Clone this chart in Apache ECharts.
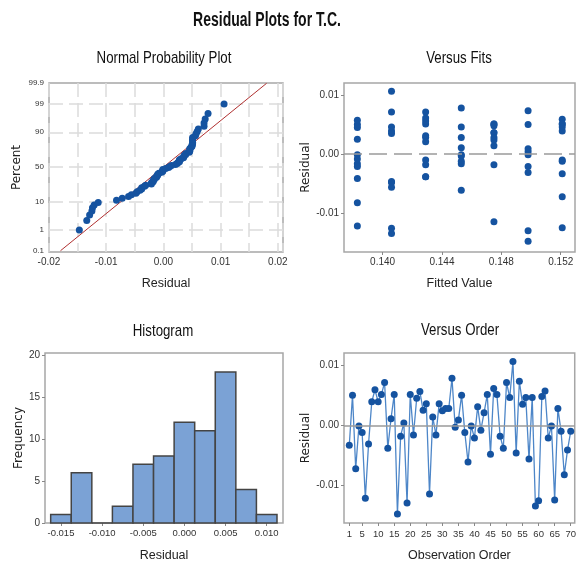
<!DOCTYPE html>
<html>
<head>
<meta charset="utf-8">
<script src="https://cdn.jsdelivr.net/npm/echarts@6/dist/echarts.min.js"></script>
<style>html,body{margin:0;padding:0;background:#fff}#c{width:579px;height:563px}</style>
</head>
<body>
<div id="c"></div>
<script>
// ---- data ----
const residuals = [
  -0.0033, 0.0050, -0.0072, -0.0001, -0.0012, -0.0121, -0.0031, 0.0039, 0.0059, 0.0039,
  0.0051, 0.0071, -0.0038, 0.0011, 0.0051, -0.0147, -0.0018, 0.0004, -0.0129, 0.0051,
  -0.0016, 0.0045, 0.0056, 0.0025, 0.0036, -0.0114, 0.0014, -0.0016, 0.0036, 0.0024,
  0.0028, 0.0028, 0.0078, -0.0003, 0.0009, 0.0050, -0.0012, -0.0061, -0.0001, -0.0021,
  0.0031, -0.0008, 0.0021, 0.0051, -0.0048, 0.0061, 0.0051, -0.0018, -0.0038, 0.0071,
  0.0046, 0.0106, -0.0046, 0.0073, 0.0035, 0.0046, -0.0056, 0.0046, -0.0134, -0.0125,
  0.0048, 0.0057, -0.0021, -0.0001, -0.0124, 0.0028, -0.0010, -0.0082, -0.0041, -0.0010
];
const fitted = [
  0.1521, 0.1383, 0.1521, 0.1383, 0.1521, 0.1383, 0.1498, 0.1406, 0.1521, 0.1521,
  0.1429, 0.1406, 0.1429, 0.1453, 0.1475, 0.1498, 0.1475, 0.1498, 0.1498, 0.1475,
  0.1383, 0.1383, 0.1429, 0.1383, 0.1475, 0.1475, 0.1475, 0.1453, 0.1475, 0.1475,
  0.1429, 0.1453, 0.1453, 0.1453, 0.1498, 0.1498, 0.1453, 0.1453, 0.1453, 0.1383,
  0.1429, 0.1383, 0.1429, 0.1521, 0.1406, 0.1429, 0.1521, 0.1429, 0.1429, 0.1429,
  0.1453, 0.1406, 0.1406, 0.1498, 0.1406, 0.1406, 0.1406, 0.1521, 0.1406, 0.1406,
  0.1475, 0.1383, 0.1498, 0.1498, 0.1521, 0.1475, 0.1429, 0.1383, 0.1383, 0.1521
];
const histCenters = [-0.015, -0.0125, -0.010, -0.0075, -0.005, -0.0025, 0, 0.0025, 0.005, 0.0075, 0.010];
const histCounts  = [1, 6, 0, 2, 7, 8, 12, 11, 18, 4, 1];

const percentLabels = [0.1, 1, 10, 50, 90, 99, 99.9];
const percentGrid   = [1, 10, 50, 90, 99];
const normXTicks  = [-0.02, -0.01, 0, 0.01, 0.02];
const fitTicks    = [0.140, 0.144, 0.148, 0.152];
const residTicks  = [-0.01, 0, 0.01];
const histXTicks  = [-0.015, -0.010, -0.005, 0, 0.005, 0.010];
const freqTicks   = [0, 5, 10, 15, 20];
const orderTicks  = [1, 5, 10, 15, 20, 25, 30, 35, 40, 45, 50, 55, 60, 65, 70];

// ---- helpers ----
function invNorm(p) {
  const a = [-3.969683028665376e+01, 2.209460984245205e+02, -2.759285104469687e+02, 1.383577518672690e+02, -3.066479806614716e+01, 2.506628277459239e+00];
  const b = [-5.447609879822406e+01, 1.615858368580409e+02, -1.556989798598866e+02, 6.680131188771972e+01, -1.328068155288572e+01];
  const c = [-7.784894002430293e-03, -3.223964580411365e-01, -2.400758277161838e+00, -2.549732539343734e+00, 4.374664141464968e+00, 2.938163982698783e+00];
  const d = [7.784695709041462e-03, 3.224671290700398e-01, 2.445134137142996e+00, 3.754408661907416e+00];
  const pl = 0.02425, ph = 1 - pl;
  let q, r;
  if (p < pl) { q = Math.sqrt(-2 * Math.log(p)); return (((((c[0]*q+c[1])*q+c[2])*q+c[3])*q+c[4])*q+c[5]) / ((((d[0]*q+d[1])*q+d[2])*q+d[3])*q+1); }
  if (p <= ph) { q = p - 0.5; r = q*q; return (((((a[0]*r+a[1])*r+a[2])*r+a[3])*r+a[4])*r+a[5])*q / (((((b[0]*r+b[1])*r+b[2])*r+b[3])*r+b[4])*r+1); }
  q = Math.sqrt(-2 * Math.log(1 - p)); return -(((((c[0]*q+c[1])*q+c[2])*q+c[3])*q+c[4])*q+c[5]) / ((((d[0]*q+d[1])*q+d[2])*q+d[3])*q+1);
}
const n = residuals.length;
const sorted = residuals.slice().sort((x, y) => x - y);
const probData = sorted.map((v, i) => [v, invNorm((i + 1 - 0.3) / (n + 0.4))]);
const mean = residuals.reduce((s, v) => s + v, 0) / n;
const sd = Math.sqrt(residuals.reduce((s, v) => s + (v - mean) * (v - mean), 0) / (n - 1));
const zLo = invNorm(0.001), zHi = invNorm(0.999);
const fitLine = [[mean + zLo * sd, zLo], [mean + zHi * sd, zHi]];
const zLabelVals = percentLabels.map(p => invNorm(p / 100));
const zGridVals = percentGrid.map(p => invNorm(p / 100));
function pctText(z) {
  let best = 0, bd = 1e9;
  zLabelVals.forEach((zz, i) => { const d = Math.abs(zz - z); if (d < bd) { bd = d; best = i; } });
  return String(percentLabels[best]);
}
const fitsData = residuals.map((r, i) => [fitted[i], r]);
const orderData = residuals.map((r, i) => [i + 1, r]);
const histData = histCenters.map((c, i) => [c, histCounts[i]]);
const binW = histCenters[1] - histCenters[0];

// ---- styling ----
const SANS = "'Liberation Sans', Arial, sans-serif";
const WIDE = "'DejaVu Sans', sans-serif";
const BLUE = '#1553a0';
const frameColor = '#a6a6a6';
const tickLabel = { fontFamily: SANS, fontSize: 10, color: '#333' };
const xName = { fontFamily: SANS, fontSize: 12.5, color: '#222' };
const yName = { fontFamily: WIDE, fontSize: 12, color: '#222' };

function headText(text, cx, cy, size, weight, sx) {
  return { type: 'text', x: cx, y: cy, scaleX: sx, silent: true, z: 10,
    style: { text, fontFamily: SANS, fontSize: size, fontWeight: weight, fill: '#111',
      align: 'center', verticalAlign: 'middle' } };
}
function noLine() { return { show: false, onZero: false }; }

const chart = echarts.init(document.getElementById('c'), null, { renderer: 'canvas' });
chart.setOption({
  animation: false,
  backgroundColor: '#fff',
  graphic: [
    headText('Residual Plots for T.C.', 267, 20, 20, 'bold', 0.7),
    headText('Normal Probability Plot', 164, 58.5, 17, 'normal', 0.78),
    headText('Versus Fits', 459, 58.5, 17, 'normal', 0.78),
    headText('Histogram', 163, 331, 17, 'normal', 0.78),
    headText('Versus Order', 460, 330.5, 17, 'normal', 0.78)
  ],
  grid: [
    { left: 49, top: 83, width: 234, height: 169, show: true, borderColor: frameColor, borderWidth: 1.5, backgroundColor: '#fff' },
    { left: 344, top: 83, width: 231, height: 169, show: true, borderColor: frameColor, borderWidth: 1.5, backgroundColor: '#fff' },
    { left: 45, top: 353, width: 238, height: 170, show: true, borderColor: frameColor, borderWidth: 1.5, backgroundColor: '#fff' },
    { left: 344, top: 353, width: 231, height: 170, show: true, borderColor: frameColor, borderWidth: 1.5, backgroundColor: '#fff' }
  ],
  xAxis: [
    { gridIndex: 0, type: 'value', min: -0.02, max: 0.0209, interval: 0.005,
      name: 'Residual', nameLocation: 'middle', nameGap: 25, nameTextStyle: xName,
      axisLine: noLine(), axisTick: { show: false },
      axisLabel: Object.assign({ customValues: normXTicks, margin: 5, formatter: v => v.toFixed(2) }, tickLabel),
      splitLine: { show: true, lineStyle: { color: '#dcdcdc', width: 1.5, type: [14, 6] } } },
    { gridIndex: 1, type: 'value', min: 0.1374, max: 0.15296,
      name: 'Fitted Value', nameLocation: 'middle', nameGap: 25, nameTextStyle: xName,
      axisLine: noLine(), axisTick: { show: true, customValues: fitTicks, length: 3, lineStyle: { color: '#888' } },
      axisLabel: Object.assign({ customValues: fitTicks, margin: 5, formatter: v => v.toFixed(3) }, tickLabel),
      splitLine: { show: false } },
    { gridIndex: 2, type: 'value', min: -0.01694, max: 0.01198,
      name: 'Residual', nameLocation: 'middle', nameGap: 26, nameTextStyle: xName,
      axisLine: noLine(), axisTick: { show: true, customValues: histXTicks, length: 3, lineStyle: { color: '#888' } },
      axisLabel: Object.assign({ customValues: histXTicks, margin: 5, formatter: v => v.toFixed(3) }, tickLabel, { fontSize: 9.5 }),
      splitLine: { show: false } },
    { gridIndex: 3, type: 'value', min: -0.65, max: 71.25,
      name: 'Observation Order', nameLocation: 'middle', nameGap: 26, nameTextStyle: xName,
      axisLine: noLine(), axisTick: { show: true, customValues: orderTicks, length: 3, lineStyle: { color: '#888' } },
      axisLabel: Object.assign({ customValues: orderTicks, margin: 6, formatter: v => String(v) }, tickLabel, { fontSize: 9.5 }),
      splitLine: { show: false } }
  ],
  yAxis: [
    { gridIndex: 0, type: 'value', min: -3.138, max: 3.10,
      name: 'Percent', nameLocation: 'middle', nameGap: 26, nameTextStyle: yName,
      axisLine: noLine(), axisTick: { show: false, customValues: zGridVals },
      axisLabel: Object.assign({}, tickLabel, { customValues: zLabelVals, margin: 5, fontSize: 8, formatter: v => pctText(v) }),
      splitLine: { show: true, lineStyle: { color: '#dcdcdc', width: 1.5, type: [14, 6] } } },
    { gridIndex: 1, type: 'value', min: -0.0165, max: 0.012,
      name: 'Residual', nameLocation: 'middle', nameGap: 26, nameTextStyle: yName,
      axisLine: noLine(), axisTick: { show: true, customValues: residTicks, length: 3, lineStyle: { color: '#888' } },
      axisLabel: Object.assign({ customValues: residTicks, margin: 5, formatter: v => v.toFixed(2) }, tickLabel),
      splitLine: { show: false } },
    { gridIndex: 2, type: 'value', min: 0, max: 20.27,
      name: 'Frequency', nameLocation: 'middle', nameGap: 17, nameTextStyle: yName,
      axisLine: noLine(), axisTick: { show: true, customValues: freqTicks, length: 3, lineStyle: { color: '#888' } },
      axisLabel: Object.assign({ customValues: freqTicks, margin: 5, formatter: v => String(v) }, tickLabel),
      splitLine: { show: false } },
    { gridIndex: 3, type: 'value', min: -0.0162, max: 0.012,
      name: 'Residual', nameLocation: 'middle', nameGap: 27, nameTextStyle: yName,
      axisLine: noLine(), axisTick: { show: true, customValues: residTicks, length: 3, lineStyle: { color: '#888' } },
      axisLabel: Object.assign({ customValues: residTicks, margin: 5, formatter: v => v.toFixed(2) }, tickLabel),
      splitLine: { show: false } }
  ],
  series: [
    { type: 'line', xAxisIndex: 0, yAxisIndex: 0, data: fitLine, symbol: 'none', silent: true,
      lineStyle: { color: '#b03030', width: 1 }, z: 3 },
    { type: 'scatter', xAxisIndex: 0, yAxisIndex: 0, data: probData, symbol: 'circle', symbolSize: 7,
      itemStyle: { color: BLUE, opacity: 1 }, z: 4 },
    { type: 'scatter', xAxisIndex: 1, yAxisIndex: 1, data: fitsData, symbol: 'circle', symbolSize: 7,
      itemStyle: { color: BLUE, opacity: 1 }, z: 4,
      markLine: { silent: true, symbol: 'none', label: { show: false },
        lineStyle: { color: '#9a9a9a', width: 1.5, type: [18, 7] }, data: [{ yAxis: 0 }] } },
    { type: 'custom', xAxisIndex: 2, yAxisIndex: 2, data: histData,
      renderItem: function (params, api) {
        const c = api.value(0), h = api.value(1);
        const p0 = api.coord([c - binW / 2, h]);
        const p1 = api.coord([c + binW / 2, 0]);
        return { type: 'rect', shape: { x: p0[0], y: p0[1], width: p1[0] - p0[0], height: p1[1] - p0[1] },
          style: { fill: '#7ba2d5', stroke: '#444', lineWidth: 1.5 } };
      } },
    { type: 'line', xAxisIndex: 3, yAxisIndex: 3, data: orderData, symbol: 'circle', symbolSize: 7,
      lineStyle: { color: '#4d86c8', width: 1.3 }, itemStyle: { color: BLUE }, z: 4,
      markLine: { silent: true, symbol: 'none', label: { show: false },
        lineStyle: { color: '#9a9a9a', width: 1.5, type: 'solid' }, data: [{ yAxis: 0 }] } }
  ]
});
</script>
</body>
</html>
